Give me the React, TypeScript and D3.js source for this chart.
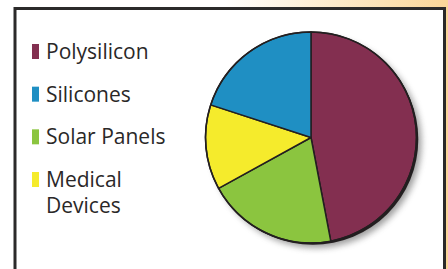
import React from 'react';
import * as d3 from 'd3';

// chart data
const categories = ['Polysilicon', 'Silicones', 'Solar Panels', 'Medical Devices'];
const shares = [47, 20, 20, 13];
const colors = ['#832F50', '#1F8FC3', '#8BC53F', '#F5EB2C'];
// order in which the slices go round the pie, clockwise from 12 o'clock
const sliceOrder = ['Polysilicon', 'Solar Panels', 'Medical Devices', 'Silicones'];
// legend labels, broken into lines
const legendLines = [['Polysilicon'], ['Silicones'], ['Solar Panels'], ['Medical', 'Devices']];

const width = 448;
const height = 269;

export default function App() {
  const cx = 311;
  const cy = 137.5;
  const radius = 105.5;

  const slices = sliceOrder.map(name => {
    const i = categories.indexOf(name);
    return { name, value: shares[i], color: colors[i] };
  });

  const pie = d3.pie<{ name: string; value: number; color: string }>()
    .sort(null)
    .value(d => d.value);
  const arc = d3.arc<d3.PieArcDatum<{ name: string; value: number; color: string }>>()
    .innerRadius(0)
    .outerRadius(radius);

  const legendY = d3.scaleLinear().domain([0, categories.length - 1]).range([59, 187]);

  return (
    <svg
      width={width}
      height={height}
      style={{ position: 'absolute', left: 0, top: 0, display: 'block' }}
    >
      <defs>
        <linearGradient id="bgGrad" x1="0" y1="0" x2="1" y2="0">
          <stop offset="0.5" stopColor="#ffffff" />
          <stop offset="1" stopColor="#FBD698" />
        </linearGradient>
        <filter id="blur" x="-20%" y="-20%" width="140%" height="140%">
          <feGaussianBlur stdDeviation="3" />
        </filter>
      </defs>

      <rect x={0} y={0} width={width} height={height} fill="url(#bgGrad)" />
      <rect x={15} y={8.5} width={429.5} height={280} fill="#ffffff" stroke="#2b2a2a" strokeWidth={3} />

      {/* pie shadow */}
      <circle cx={cx + 5} cy={cy + 5} r={radius} fill="#777" opacity={0.7} filter="url(#blur)" />
      <circle cx={cx + 1.8} cy={cy + 1.8} r={radius} fill="#231F20" />

      <g transform={`translate(${cx},${cy})`}>
        {pie(slices).map(d => (
          <path key={d.data.name} d={arc(d) || ''} fill={d.data.color} stroke="#231F20" strokeWidth={1.5} strokeLinejoin="round" />
        ))}
        <circle r={radius} fill="none" stroke="#231F20" strokeWidth={1.5} />
      </g>

      <g fontFamily="'Open Sans', Lato, sans-serif" fontSize={21} fill="#2a2828">
        {categories.map((name, i) => (
          <g key={name}>
            <rect x={32} y={legendY(i) - 15} width={7} height={15} fill={colors[i]} />
            <text x={46} y={legendY(i)}>
              {legendLines[i].map((line, j) => (
                <tspan key={line} x={46} dy={j === 0 ? 0 : 26}>{line}</tspan>
              ))}
            </text>
          </g>
        ))}
      </g>
    </svg>
  );
}
